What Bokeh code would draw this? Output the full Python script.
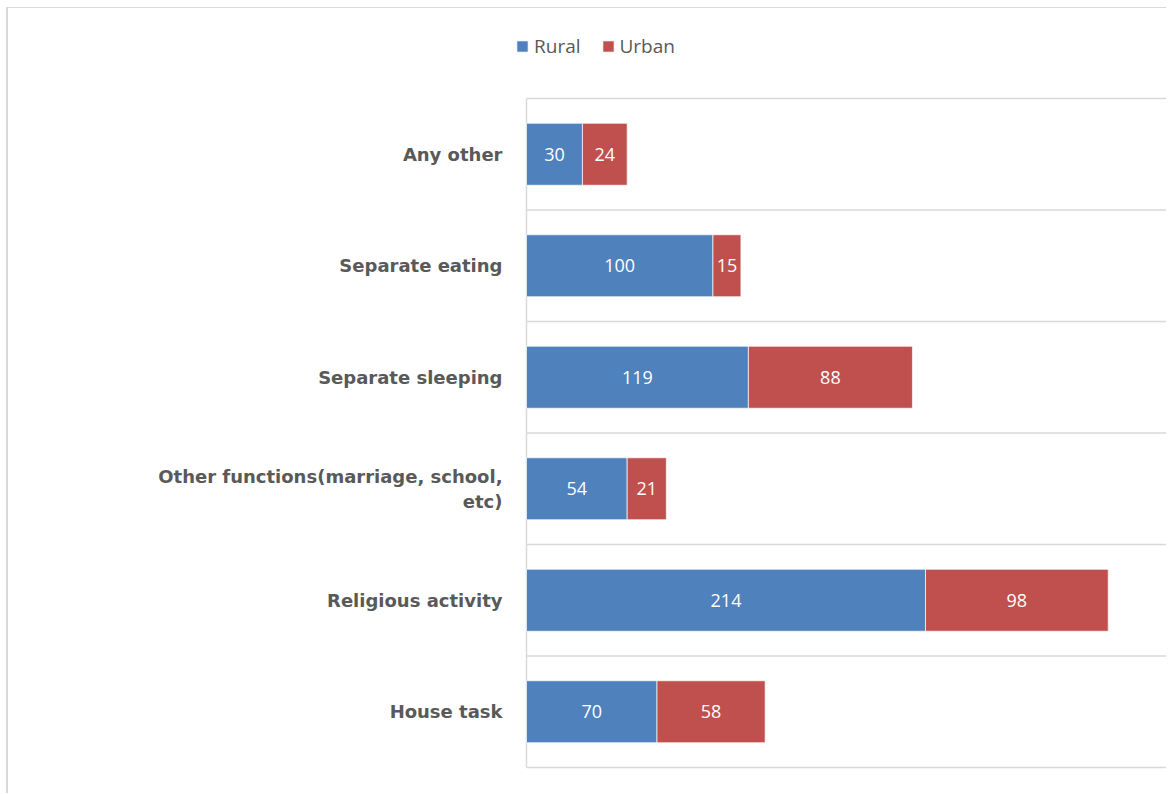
from bokeh.plotting import figure
from bokeh.models import ColumnDataSource, FixedTicker, Legend, LegendItem
from bokeh.core.properties import value
from bokeh.embed import file_html
from bokeh.resources import INLINE

categories = ["House task", "Religious activity", "Other functions(marriage, school,\netc)",
              "Separate sleeping", "Separate eating", "Any other"]
rural = [70, 214, 54, 119, 100, 30]
urban = [58, 98, 21, 88, 15, 24]

n = len(categories)
ypos = [i + 0.5 for i in range(n)]
src = ColumnDataSource(dict(
    y=ypos,
    r_left=[0] * n,
    r_right=rural,
    u_left=rural,
    u_right=[r + u for r, u in zip(rural, urban)],
    r_mid=[r / 2 for r in rural],
    u_mid=[r + u / 2 for r, u in zip(rural, urban)],
    r_txt=[str(v) for v in rural],
    u_txt=[str(v) for v in urban],
))

W, H = 1160, 786
PXU = 1.8645          # pixels per value unit
BAND = 111.5          # pixels per category band
LEFT = 507
BOTTOM = 24
x0 = -11 / PXU
x1 = x0 + (W - LEFT) / PXU
y0 = -3 / BAND
y1 = y0 + (H - BOTTOM) / BAND

p = figure(width=W, height=H, output_backend="svg", toolbar_location=None,
           x_range=(x0, x1), y_range=(y0, y1),
           min_border_left=LEFT, min_border_top=0, min_border_bottom=BOTTOM, min_border_right=0)
p.outline_line_color = None
p.background_fill_color = "white"
p.border_fill_color = "white"
p.styles = {"margin-left": "6px", "margin-top": "7px",
            "border-left": "2px solid #d9d9d9", "border-top": "1px solid #d9d9d9"}
p.xgrid.visible = False
p.ygrid.visible = False

# category boundary gridlines and the value axis line
bounds = list(range(n + 1))
p.segment(x0=[0] * len(bounds), x1=[x1 + 5] * len(bounds), y0=bounds, y1=bounds,
          line_color="#d9d9d9", line_width=1.5)
p.segment(x0=[0], x1=[0], y0=[0], y1=[n], line_color="#d9d9d9", line_width=1.5)

rb = p.hbar(y="y", left="r_left", right="r_right", height=0.556, source=src,
            fill_color="#4F81BD", line_color="white", line_width=0.7)
ub = p.hbar(y="y", left="u_left", right="u_right", height=0.556, source=src,
            fill_color="#C0504D", line_color="white", line_width=0.7)

for xcol, tcol in (("r_mid", "r_txt"), ("u_mid", "u_txt")):
    p.text(x=xcol, y="y", text=tcol, source=src, text_color="white",
           text_font=value("Open Sans"), text_font_size="18px",
           text_align="center", text_baseline="middle")

p.xaxis.visible = False

yax = p.yaxis[0]
yax.ticker = FixedTicker(ticks=ypos)
yax.major_label_overrides = {y: c for y, c in zip(ypos, categories)}
yax.major_tick_line_color = None
yax.minor_tick_line_color = None
yax.axis_line_color = None
yax.major_label_text_font = "DejaVu Sans"
yax.major_label_text_font_style = "bold"
yax.major_label_text_font_size = "18px"
yax.major_label_text_color = "#595959"
yax.major_label_standoff = 7

legend = Legend(items=[LegendItem(label="Rural", renderers=[rb]),
                       LegendItem(label="Urban", renderers=[ub])],
                orientation="horizontal", location=(0, 711),
                padding=0, margin=0, spacing=20, label_standoff=5,
                glyph_width=14, glyph_height=14,
                label_text_font="Open Sans", label_text_font_size="19px",
                label_text_color="#595959", border_line_color=None,
                background_fill_alpha=0)
p.add_layout(legend, "center")

open("out.html", "w").write(file_html(p, INLINE))
